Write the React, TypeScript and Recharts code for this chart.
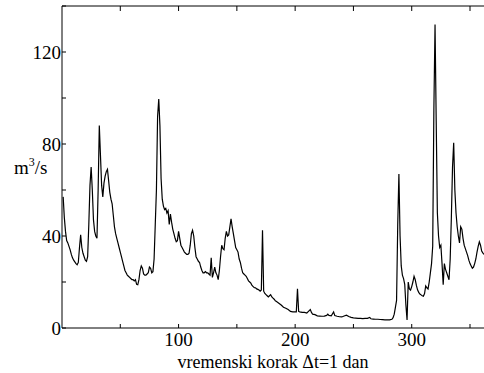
import { LineChart, Line, XAxis, YAxis, Label } from "recharts"

const days = [
  1, 2, 3, 4, 5, 6, 7, 8, 9, 10, 12, 13, 14, 15, 16, 17, 18, 19, 20, 21, 22, 23, 24, 25, 26, 27, 28, 29, 30,
  31, 32, 33, 34, 35, 36, 37, 38, 39, 40, 41, 42, 43, 44, 45, 46, 47, 48, 49, 50, 51, 52, 53, 54, 55, 56, 57,
  58, 59, 60, 61, 62, 63, 64, 65, 66, 67, 68, 69, 70, 71, 72, 73, 74, 75, 76, 77, 78, 79, 80, 81, 82, 83, 84,
  85, 86, 87, 88, 89, 90, 91, 92, 93, 94, 95, 96, 97, 98, 99, 100, 101, 102, 103, 104, 105, 106, 107, 108,
  109, 110, 111, 112, 113, 114, 115, 116, 117, 118, 119, 120, 121, 122, 123, 124, 125, 126, 127, 128, 129,
  130, 131, 132, 133, 134, 135, 136, 137, 138, 139, 140, 141, 142, 143, 144, 145, 146, 147, 148, 149, 150,
  151, 152, 153, 154, 155, 156, 157, 158, 159, 160, 161, 162, 163, 164, 165, 166, 167, 168, 169, 170, 171,
  172, 173, 174, 175, 176, 177, 178, 179, 180, 181, 182, 183, 184, 186, 188, 190, 192, 194, 196, 198, 200,
  201, 202, 203, 204, 206, 208, 210, 211, 213, 214, 215, 217, 219, 221, 223, 225, 227, 228, 229, 231, 233,
  234, 236, 238, 240, 242, 244, 246, 248, 250, 252, 254, 256, 258, 260, 262, 264, 265, 267, 269, 271, 273,
  275, 277, 279, 281, 283, 284, 285, 286, 287, 288, 289, 290, 291, 292, 293, 294, 295, 296, 297, 298, 299,
  300, 301, 302, 303, 304, 305, 306, 307, 308, 309, 310, 311, 312, 313, 314, 315, 316, 317, 318, 319, 320,
  321, 322, 323, 324, 325, 326, 327, 328, 329, 330, 331, 332, 333, 334, 335, 336, 337, 338, 339, 340, 341,
  342, 343, 344, 345, 346, 347, 348, 349, 350, 351, 352, 353, 354, 355, 356, 357, 358, 359, 360, 361, 362,
]

const flow = [
  57, 48, 42, 38, 37, 35.5, 34, 32, 30.5, 29.5, 28, 27.5, 28.5, 35, 40.5, 35, 32.5, 31, 29.5, 29, 31, 45, 62,
  70, 60, 47, 42, 40, 39, 60, 88, 75, 62, 57, 63, 66, 68, 69, 64, 59, 56, 54, 49, 44, 41, 39, 37, 35, 33, 31,
  29, 27, 25, 24, 23, 22.5, 22, 21.5, 21, 21, 20.5, 21, 19, 18.8, 21, 25, 27, 26, 23.5, 23, 23, 23.5, 24, 26.5,
  26, 24, 24.5, 30, 45, 60, 92, 99.5, 88, 65, 56, 53, 51.5, 52, 50, 51, 45, 49.5, 46, 43, 41, 39, 37.5, 38, 42,
  39, 36, 35, 34, 33, 32.5, 32, 32, 32.5, 36, 41, 42.5, 40, 35, 31, 30, 29, 28.5, 26.5, 25, 24, 24, 24.5, 24,
  24, 23.5, 23, 30.5, 22, 24, 26.5, 24, 23, 21, 25, 31, 36, 34.5, 34, 39, 42, 40, 40.5, 44, 47.5, 44, 41, 38,
  35, 34, 33, 30, 28.5, 26, 24, 23.5, 23, 22.5, 21.5, 20.5, 20, 19.5, 18.5, 18, 17.5, 17.5, 17, 16.8, 16.5, 16,
  16.5, 42.5, 16, 15, 14.5, 14, 13.5, 14, 14.5, 13.5, 13, 12.5, 11.8, 11.5, 10.8, 10, 9, 8.6, 8, 7.2, 7, 7, 7,
  17, 7.2, 7, 6.8, 6.8, 6.5, 7, 8, 6.8, 6, 5.8, 5.3, 5.2, 5.1, 5.2, 5.5, 6, 5.5, 5.3, 7, 5.4, 5.1, 4.9, 4.8,
  5.2, 5.6, 5, 4.6, 4.4, 4.3, 4.2, 4.2, 4.1, 4.2, 4.2, 4.6, 4, 3.9, 3.8, 3.8, 3.7, 3.6, 3.5, 3.5, 3.5, 3.8,
  4.5, 6, 9, 12, 45, 67, 40, 27, 23, 21.5, 19, 10, 3.5, 20, 17, 16.5, 18, 20, 22.5, 21, 18.5, 16.6, 15.5, 14.8,
  14.4, 14, 13.8, 15, 18.3, 17.5, 17, 20, 24, 28, 35.5, 95, 132, 90, 50, 40, 35, 36, 28, 18.8, 28, 25.5, 24,
  22.5, 21, 30, 48, 70, 80.5, 60, 50, 44, 40, 37, 44, 43, 39, 36, 34.5, 33, 31.5, 29.5, 28, 27, 26, 26.5, 28,
  30, 33, 35.5, 37.5, 36, 33.5, 32.7, 32,
]

const xTicks = [50, 100, 150, 200, 250, 300, 350]
const xLabels = [100, 200, 300]
const yTicks = [0, 20, 40, 60, 80, 100, 120, 140]
const yLabels = [0, 40, 80, 120]

const data = days.map((d, i) => ({ day: d, q: flow[i] }))

const font = "'Liberation Serif', 'Times New Roman', 'DejaVu Serif', serif"
const tickStyle = { fontSize: 19, fill: "#000", fontFamily: font }

export default function App() {
  return (
    <div style={{ position: "absolute", left: 0, top: 0, fontFamily: font }}>
      <LineChart width={484} height={373} data={data} margin={{ top: 5, right: 0, bottom: 0, left: 0 }}>
        <XAxis
          dataKey="day"
          type="number"
          domain={[0, 362]}
          ticks={xTicks}
          tickFormatter={(v) => (xLabels.includes(v) ? String(v) : "")}
          tickSize={-4}
          tickMargin={9}
          height={45}
          stroke="#000"
          tick={tickStyle}
          allowDataOverflow
        >
          <Label
            content={() => (
              <text x={273} y={368} textAnchor="middle" fontSize={18} fill="#000" fontFamily={font}>
                vremenski korak Δt=1 dan
              </text>
            )}
          />
        </XAxis>
        <XAxis
          xAxisId="top"
          orientation="top"
          dataKey="day"
          type="number"
          domain={[0, 362]}
          ticks={xTicks}
          tickFormatter={() => ""}
          tickSize={-5}
          tickMargin={0}
          height={1}
          stroke="#000"
          allowDataOverflow
        />
        <YAxis
          type="number"
          domain={[0, 140]}
          ticks={yTicks}
          tickFormatter={(v) => (yLabels.includes(v) ? String(v) : "")}
          tickSize={-4}
          tickMargin={5}
          width={62}
          stroke="#000"
          tick={tickStyle}
          allowDataOverflow
        >
          <Label
            content={() => (
              <text x={14} y={174} fontSize={19} fill="#000" fontFamily={font}>
                m
                <tspan dy={-8} fontSize={12}>3</tspan>
                <tspan dy={8}>/s</tspan>
              </text>
            )}
          />
        </YAxis>
        <Line
          type="linear"
          dataKey="q"
          stroke="#000"
          strokeWidth={1.2}
          dot={false}
          isAnimationActive={false}
        />
      </LineChart>
    </div>
  )
}
